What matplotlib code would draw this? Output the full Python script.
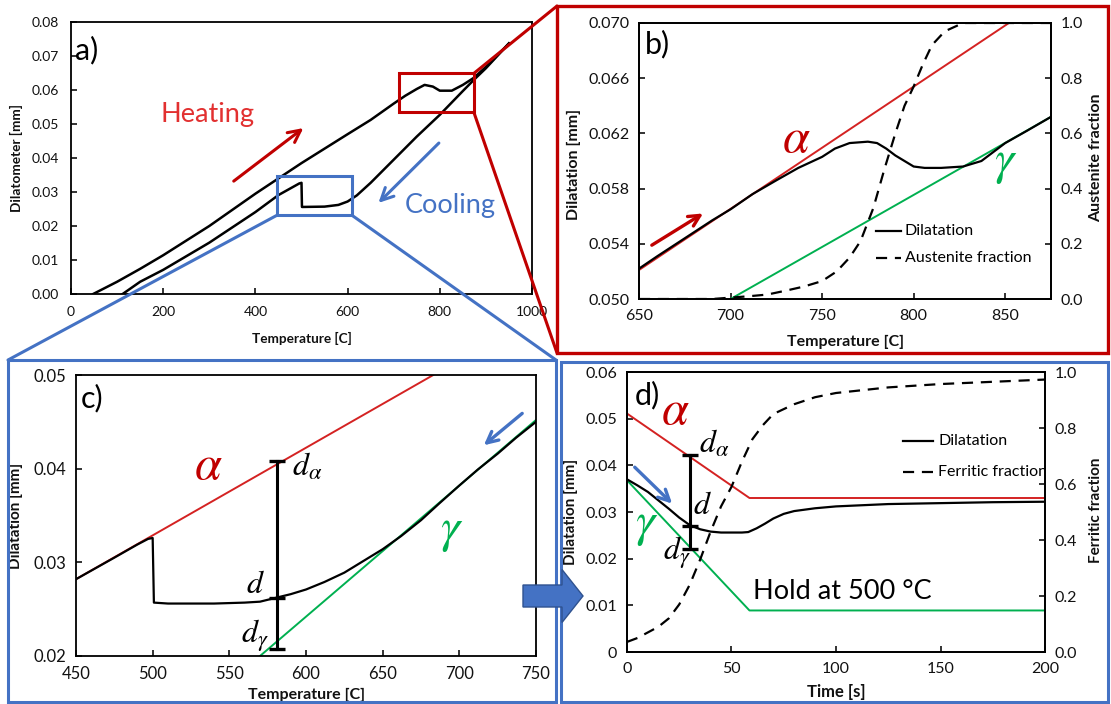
import numpy as np
import matplotlib
matplotlib.use("Agg")
import matplotlib.pyplot as plt
from matplotlib.patches import Rectangle, FancyArrow, ConnectionPatch

plt.rcParams['font.family'] = ['Lato', 'DejaVu Sans']
plt.rcParams['mathtext.fontset'] = 'stix'

W, H = 1111, 704

RED = '#D42222'
DARKRED = '#C00000'
GREEN = '#00B050'
BLUE = '#4472C4'

# --- a) full cycle ---
a_heat_T = [48, 100, 150, 200, 300, 400, 500, 600, 650, 700, 725, 750, 767, 785, 800, 826, 850, 874, 900, 950]
a_heat_d = [0.0, 0.0036, 0.0074, 0.0114, 0.0200, 0.0295, 0.0385, 0.0470, 0.0512, 0.0560, 0.0583, 0.0603,
            0.0615, 0.0610, 0.0598, 0.0598, 0.0615, 0.0636, 0.0668, 0.0737]
a_cool_T = [950, 900, 874, 850, 800, 750, 700, 650, 620, 600, 580, 550, 501, 500, 495, 450, 400, 300, 200, 150, 112]
a_cool_d = [0.0737, 0.0664, 0.0630, 0.0597, 0.0527, 0.0463, 0.0395, 0.0327, 0.0290, 0.0272, 0.0262, 0.0257,
            0.0256, 0.0327, 0.0325, 0.0291, 0.0241, 0.0151, 0.0071, 0.0036, 0.0]
box_b = (712, 874, 0.0534, 0.0649)   # T0, T1, d0, d1
box_c = (446, 610, 0.0231, 0.0346)

# --- b) heating detail ---
b_T = [650, 660, 675, 690, 700, 712, 725, 737, 750, 757, 765, 775, 780, 785, 790, 795, 800, 806,
       815, 827, 837, 850, 862, 875]
b_d = [0.0522, 0.0531, 0.0544, 0.0557, 0.0565, 0.0576, 0.0586, 0.0595, 0.0603, 0.0609, 0.0613, 0.0614,
       0.0613, 0.0609, 0.0604, 0.0600, 0.0596, 0.0595, 0.0595, 0.0596, 0.0600, 0.0613, 0.0622, 0.0632]
b_aus_T = [650, 690, 700, 710, 720, 730, 740, 750, 758, 765, 771, 778, 784, 790, 795, 800, 805, 810,
           817, 827, 875]
b_aus = [0.0, 0.0, 0.005, 0.01, 0.016, 0.03, 0.045, 0.065, 0.10, 0.15, 0.21, 0.33, 0.47, 0.60, 0.70,
         0.77, 0.85, 0.92, 0.97, 1.0, 1.0]
b_alpha_T, b_alpha_d = [650, 852], [0.0521, 0.0700]
b_gamma_T, b_gamma_d = [700, 875], [0.0500, 0.0632]

# --- c) cooling detail ---
c_T = [450, 475, 490, 497, 500, 500.8, 510, 540, 560, 570, 580, 590, 600, 612, 625, 637, 650, 662,
       675, 687, 700, 712, 725, 737, 750]
c_d = [0.0282, 0.0305, 0.0319, 0.0325, 0.0326, 0.0257, 0.0256, 0.0256, 0.0257, 0.0258, 0.0262, 0.0266,
       0.0271, 0.0279, 0.0289, 0.0301, 0.0314, 0.0328, 0.0345, 0.0363, 0.0382, 0.0399, 0.0416, 0.0433,
       0.0450]
c_alpha_T, c_alpha_d = [450, 683], [0.0282, 0.0500]
c_gamma_T, c_gamma_d = [570, 750], [0.0200, 0.0452]
c_bar_T, c_bar = 581, [0.0208, 0.0262, 0.0408]   # d_gamma, d, d_alpha

# --- d) isothermal hold ---
d_t = [0, 5, 10, 15, 20, 25, 30, 35, 40, 45, 50, 55, 58, 62, 66, 70, 75, 80, 90, 100, 125, 150, 175, 200]
d_d = [0.0370, 0.0357, 0.0343, 0.0325, 0.0307, 0.0288, 0.0272, 0.0263, 0.0258, 0.0256, 0.0256, 0.0256,
       0.0257, 0.0265, 0.0275, 0.0286, 0.0296, 0.0302, 0.0308, 0.0312, 0.0317, 0.0319, 0.0321, 0.0322]
d_fer_t = [0, 5, 10, 15, 20, 25, 30, 35, 40, 45, 50, 55, 60, 65, 70, 80, 90, 100, 125, 150, 175, 200]
d_fer = [0.036, 0.05, 0.07, 0.09, 0.12, 0.17, 0.24, 0.33, 0.43, 0.52, 0.59, 0.68, 0.76, 0.81, 0.85,
         0.885, 0.91, 0.925, 0.945, 0.957, 0.965, 0.973]
d_alpha_t, d_alpha_d = [0, 58.6, 200], [0.0511, 0.0330, 0.0330]
d_gamma_t, d_gamma_d = [0, 58.6, 200], [0.0368, 0.0089, 0.0089]
d_bar_t, d_bar = 30, [0.0221, 0.0269, 0.0423]

fig = plt.figure(figsize=(W / 100, H / 100), dpi=100)


def px_axes(l, t, r, b):
    return fig.add_axes([l / W, 1 - b / H, (r - l) / W, (b - t) / H])


def style(ax, size, pad=7):
    for s in ax.spines.values():
        s.set_linewidth(1.3)
    ax.tick_params(direction='in', length=4, width=1.2, labelsize=size, pad=pad, colors='#111111')


def place_labels(ax, box, xl, yl):
    l, t, r, b = box
    ax.xaxis.set_label_coords((xl[0] - l) / (r - l), (b - xl[1]) / (b - t))
    ax.yaxis.set_label_coords((yl[0] - l) / (r - l), (b - yl[1]) / (b - t))


def arrow(ax, start, end, color, lw=2.2, ms=18):
    ax.annotate('', xy=end, xytext=start,
                arrowprops=dict(arrowstyle='->', color=color, lw=lw, mutation_scale=ms,
                                shrinkA=0, shrinkB=0))


lab = dict(fontweight='bold', color='#111111')
GREEK = 35
DLAB = 23

# ---------- a ----------
box_a = (71, 22, 532, 294)
ax_a = px_axes(*box_a)
ax_a.plot(a_heat_T, a_heat_d, color='black', lw=1.8)
ax_a.plot(a_cool_T, a_cool_d, color='black', lw=1.8)
ax_a.set_xlim(0, 1000)
ax_a.set_ylim(0, 0.08)
ax_a.set_xticks(np.arange(0, 1001, 200))
ax_a.set_yticks(np.arange(0, 0.081, 0.01))
ax_a.set_yticklabels([f"{v:.2f}" for v in np.arange(0, 0.081, 0.01)])
style(ax_a, 10, pad=9)
ax_a.set_xlabel('Temperature [C]', fontsize=9.8, va='center', **lab)
ax_a.set_ylabel('Dilatometer [mm]', fontsize=9.8, va='center', **lab)
place_labels(ax_a, box_a, (302, 338), (16, 158))
ax_a.add_patch(Rectangle((box_b[0], box_b[2]), box_b[1] - box_b[0], box_b[3] - box_b[2],
                         fill=False, ec=DARKRED, lw=2.2, zorder=5))
ax_a.add_patch(Rectangle((box_c[0], box_c[2]), box_c[1] - box_c[0], box_c[3] - box_c[2],
                         fill=False, ec=BLUE, lw=2.2, zorder=5))
ax_a.text(0.009, 0.897, 'a)', transform=ax_a.transAxes, fontsize=22, va='center', ha='left')
ax_a.text(296, 0.0527, 'Heating', color='#E23030', fontsize=19.5, ha='center', va='center')
ax_a.text(822, 0.0259, 'Cooling', color=BLUE, fontsize=19.5, ha='center', va='center')
arrow(ax_a, (353, 0.0332), (504, 0.0488), DARKRED, lw=2.2, ms=22)
arrow(ax_a, (798, 0.0444), (667, 0.0268), BLUE, lw=2.2, ms=22)

# ---------- b ----------
box_bx = (639, 23, 1051, 299)
ax_b = px_axes(*box_bx)
ax_b2 = ax_b.twinx()
ax_b.plot(b_alpha_T, b_alpha_d, color=RED, lw=1.4)
ax_b.plot(b_gamma_T, b_gamma_d, color=GREEN, lw=1.4)
ax_b.plot(b_T, b_d, color='black', lw=1.6)
ax_b2.plot(b_aus_T, b_aus, color='black', lw=1.6, ls=(0, (5, 3.5)))
ax_b.set_xlim(650, 875)
ax_b.set_ylim(0.05, 0.07)
ax_b2.set_ylim(0, 1)
ax_b.set_xticks(np.arange(650, 851, 50))
yt = np.arange(0.05, 0.0701, 0.004)
ax_b.set_yticks(yt)
ax_b.set_yticklabels([f"{v:.3f}" for v in yt])
ax_b2.set_yticks(np.arange(0, 1.01, 0.2))
ax_b2.set_yticklabels([f"{v:.1f}" for v in np.arange(0, 1.01, 0.2)])
style(ax_b, 11.5)
style(ax_b2, 11.5)
ax_b.set_xlabel('Temperature [C]', fontsize=11.5, va='center', **lab)
ax_b.set_ylabel('Dilatation [mm]', fontsize=11.5, va='center', **lab)
place_labels(ax_b, box_bx, (846, 342), (574, 164))
ax_b2.set_ylabel('Austenite fraction', fontsize=11.5, va='center', rotation=90, **lab)
ax_b2.yaxis.set_label_coords((1096 - 639) / 412, (299 - 158) / 276)
ax_b.text(0.015, 0.924, 'b)', transform=ax_b.transAxes, fontsize=22, va='center', ha='left')
ax_b.text(736, 0.0617, r'$\alpha$', color=DARKRED, fontsize=GREEK, ha='center', va='center')
ax_b.text(850, 0.0598, r'$\gamma$', color=GREEN, fontsize=GREEK, ha='center', va='center')
arrow(ax_b, (657, 0.0539), (685, 0.0562), DARKRED, lw=2.4, ms=20)
ax_b.plot([0.575, 0.637], [0.246, 0.246], color='black', lw=1.6, transform=ax_b.transAxes)
ax_b.plot([0.575, 0.637], [0.147, 0.147], color='black', lw=1.6, ls=(0, (5, 3.5)),
          transform=ax_b.transAxes)
ax_b.text(0.645, 0.246, 'Dilatation', transform=ax_b.transAxes, fontsize=11.5, va='center')
ax_b.text(0.645, 0.147, 'Austenite fraction', transform=ax_b.transAxes, fontsize=11.5, va='center')

# ---------- c ----------
box_cx = (76, 375, 536, 656)
ax_c = px_axes(*box_cx)
ax_c.plot(c_alpha_T, c_alpha_d, color=RED, lw=1.4)
ax_c.plot(c_gamma_T, c_gamma_d, color=GREEN, lw=1.4)
ax_c.plot(c_T, c_d, color='black', lw=1.6)
ax_c.plot([c_bar_T] * 3, c_bar, color='black', lw=2.2, marker='_', ms=11, mew=2.4)
ax_c.set_xlim(450, 750)
ax_c.set_ylim(0.02, 0.05)
ax_c.set_xticks(np.arange(450, 751, 50))
ax_c.set_yticks(np.arange(0.02, 0.0501, 0.01))
ax_c.set_yticklabels([f"{v:.2f}" for v in np.arange(0.02, 0.0501, 0.01)])
style(ax_c, 12)
ax_c.set_xlabel('Temperature [C]', fontsize=11.5, va='center', **lab)
ax_c.set_ylabel('Dilatation [mm]', fontsize=11, va='center', **lab)
place_labels(ax_c, box_cx, (307, 695), (16, 516))
ax_c.text(0.011, 0.918, 'c)', transform=ax_c.transAxes, fontsize=22, va='center', ha='left')
ax_c.text(536, 0.0404, r'$\alpha$', color=DARKRED, fontsize=GREEK, ha='center', va='center')
ax_c.text(695, 0.0332, r'$\gamma$', color=GREEN, fontsize=GREEK, ha='center', va='center')
ax_c.text(591, 0.0402, r'$d_\alpha$', fontsize=DLAB, ha='left', va='center')
ax_c.text(567, 0.0277, r'$d$', fontsize=DLAB, ha='center', va='center')
ax_c.text(576, 0.0222, r'$d_\gamma$', fontsize=DLAB, ha='right', va='center')
arrow(ax_c, (741, 0.0459), (716, 0.0425), BLUE, lw=2.4, ms=20)

# ---------- d ----------
box_dx = (627, 372, 1045, 652)
ax_d = px_axes(*box_dx)
ax_d2 = ax_d.twinx()
ax_d.plot(d_alpha_t, d_alpha_d, color=RED, lw=1.4)
ax_d.plot(d_gamma_t, d_gamma_d, color=GREEN, lw=1.4)
ax_d.plot(d_t, d_d, color='black', lw=1.6)
ax_d2.plot(d_fer_t, d_fer, color='black', lw=1.6, ls=(0, (5, 3.5)))
ax_d.plot([d_bar_t] * 3, d_bar, color='black', lw=2.2, marker='_', ms=11, mew=2.4)
ax_d.set_xlim(0, 200)
ax_d.set_ylim(0, 0.06)
ax_d2.set_ylim(0, 1)
ax_d.set_xticks(np.arange(0, 201, 50))
ax_d.set_yticks(np.arange(0, 0.0601, 0.01))
ax_d.set_yticklabels(['0'] + [f"{v:.2f}" for v in np.arange(0.01, 0.0601, 0.01)])
ax_d2.set_yticks(np.arange(0, 1.01, 0.2))
ax_d2.set_yticklabels([f"{v:.1f}" for v in np.arange(0, 1.01, 0.2)])
style(ax_d, 11.5)
style(ax_d2, 11.5)
ax_d.set_xlabel('Time [s]', fontsize=12, va='center', **lab)
ax_d.set_ylabel('Dilatation [mm]', fontsize=11, va='center', **lab)
place_labels(ax_d, box_dx, (836, 692), (571, 512))
ax_d2.set_ylabel('Ferritic fraction', fontsize=11, va='center', rotation=90, **lab)
ax_d2.yaxis.set_label_coords((1096 - 627) / 418, (652 - 510) / 280)
ax_d.text(0.019, 0.918, 'd)', transform=ax_d.transAxes, fontsize=22, va='center', ha='left')
ax_d.text(23.3, 0.0518, r'$\alpha$', color=DARKRED, fontsize=GREEK, ha='center', va='center')
ax_d.text(9.3, 0.0270, r'$\gamma$', color=GREEN, fontsize=GREEK, ha='center', va='center')
ax_d.text(34.5, 0.0446, r'$d_\alpha$', fontsize=DLAB, ha='left', va='center')
ax_d.text(36, 0.0315, r'$d$', fontsize=DLAB, ha='center', va='center')
ax_d.text(17, 0.0213, r'$d_\gamma$', fontsize=DLAB, ha='left', va='center')
ax_d.text(60.5, 0.0129, 'Hold at 500 °C', fontsize=19.5, ha='left', va='center')
arrow(ax_d, (3.7, 0.0396), (21.6, 0.0318), BLUE, lw=2.4, ms=20)
ax_d.plot([0.661, 0.733], [0.752, 0.752], color='black', lw=1.6, transform=ax_d.transAxes)
ax_d.plot([0.661, 0.733], [0.643, 0.643], color='black', lw=1.6, ls=(0, (5, 3.5)),
          transform=ax_d.transAxes)
ax_d.text(0.745, 0.752, 'Dilatation', transform=ax_d.transAxes, fontsize=11.5, va='center')
ax_d.text(0.745, 0.643, 'Ferritic fraction', transform=ax_d.transAxes, fontsize=11.5,
          va='center', clip_on=True)

# ---------- overlay: frames, connectors, block arrow ----------
ov = fig.add_axes([0, 0, 1, 1], zorder=10)
ov.set_xlim(0, W)
ov.set_ylim(H, 0)
ov.axis('off')
ov.add_patch(Rectangle((557, 6), 551, 347, fill=False, ec=DARKRED, lw=2.4))
ov.add_patch(Rectangle((8, 360), 548, 342, fill=False, ec=BLUE, lw=2.2))
ov.add_patch(Rectangle((561, 362), 547, 340, fill=False, ec=BLUE, lw=2.2))
ov.add_patch(FancyArrow(523, 596, 60, 0, width=22, head_width=53, head_length=21,
                        length_includes_head=True, fc=BLUE, ec='#2F528F', lw=1))

for xy_a, xy_f, col in [((box_b[1], box_b[3]), (557, 6), DARKRED),
                        ((box_b[1], box_b[2]), (557, 353), DARKRED),
                        ((box_c[0], box_c[2]), (8, 360), BLUE),
                        ((box_c[1], box_c[2]), (556, 360), BLUE)]:
    con = ConnectionPatch(xyA=xy_a, coordsA=ax_a.transData, xyB=xy_f, coordsB=ov.transData,
                          color=col, lw=2.2)
    fig.add_artist(con)

fig.savefig('out.png', dpi=100)
